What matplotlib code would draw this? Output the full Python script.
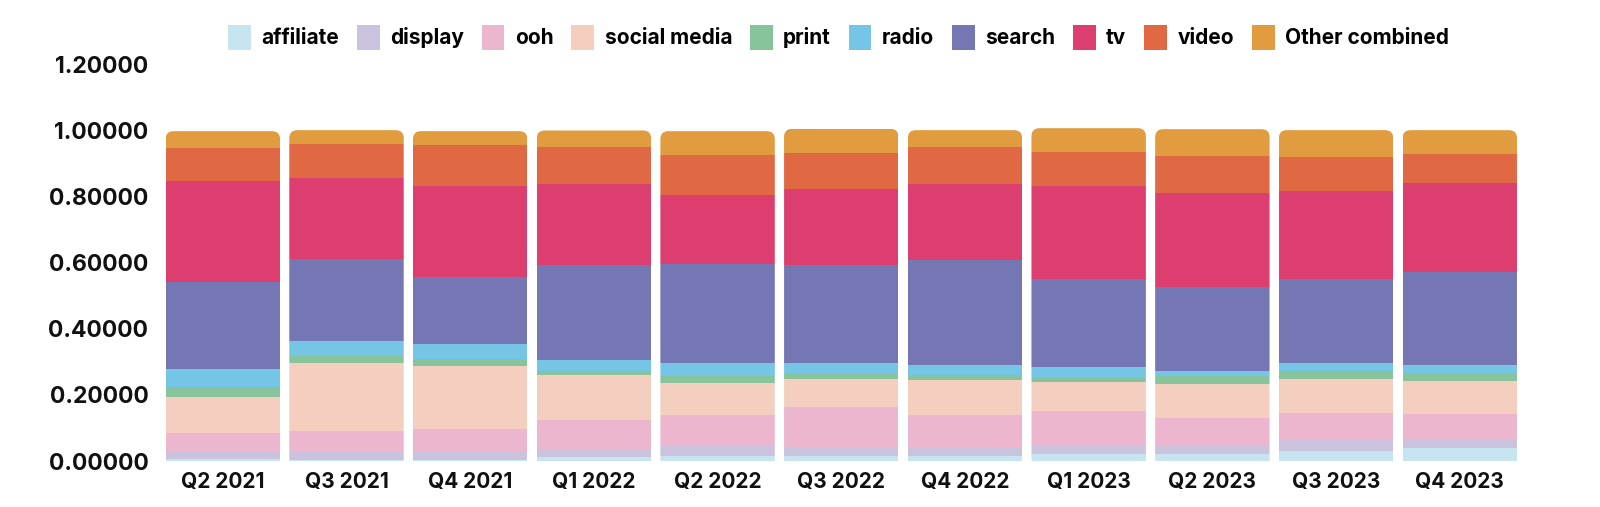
import matplotlib.pyplot as plt
from matplotlib.patches import FancyBboxPatch

### Data
quarters = ['Q2 2021', 'Q3 2021', 'Q4 2021', 'Q1 2022', 'Q2 2022', 'Q3 2022',
            'Q4 2022', 'Q1 2023', 'Q2 2023', 'Q3 2023', 'Q4 2023']
affiliate = [0.005, 0.004, 0.004, 0.012, 0.015, 0.015, 0.015, 0.021, 0.021, 0.031, 0.040]
display = [0.023, 0.024, 0.027, 0.023, 0.032, 0.025, 0.027, 0.026, 0.028, 0.032, 0.027]
ooh = [0.058, 0.063, 0.066, 0.089, 0.091, 0.124, 0.097, 0.104, 0.081, 0.082, 0.075]
social_media = [0.109, 0.207, 0.191, 0.135, 0.097, 0.083, 0.106, 0.089, 0.103, 0.102, 0.099]
print_ = [0.028, 0.020, 0.020, 0.014, 0.021, 0.019, 0.015, 0.011, 0.024, 0.025, 0.025]
radio = [0.055, 0.045, 0.046, 0.033, 0.040, 0.030, 0.030, 0.033, 0.016, 0.026, 0.025]
search = [0.264, 0.247, 0.203, 0.287, 0.299, 0.296, 0.317, 0.266, 0.253, 0.252, 0.281]
tv = [0.304, 0.247, 0.275, 0.246, 0.209, 0.231, 0.232, 0.282, 0.284, 0.266, 0.268]
video = [0.102, 0.102, 0.124, 0.110, 0.123, 0.109, 0.111, 0.102, 0.114, 0.104, 0.089]
other = [0.050, 0.042, 0.042, 0.051, 0.071, 0.073, 0.051, 0.073, 0.080, 0.081, 0.072]

series = [
    ('affiliate', affiliate, '#c6e5f0'),
    ('display', display, '#cbc2dd'),
    ('ooh', ooh, '#ecb7ce'),
    ('social media', social_media, '#f4cfc0'),
    ('print', print_, '#88c49b'),
    ('radio', radio, '#75c5e6'),
    ('search', search, '#7477b4'),
    ('tv', tv, '#dc3e6f'),
    ('video', video, '#e06943'),
    ('Other combined', other, '#e09c3e'),
]

plt.rcParams['font.family'] = ['Inter', 'DejaVu Sans']
plt.rcParams['font.weight'] = 'bold'

fig = plt.figure(figsize=(16, 5.07), dpi=100)
ax = fig.add_axes([0.1006, 0.0907, 0.8504, 0.7823])

x = list(range(len(quarters)))
width = 0.925
bottoms = [0.0] * len(quarters)
bar_groups = []
for name, vals, color in series:
    bars = ax.bar(x, vals, width, bottom=bottoms, color=color, label=name, linewidth=0)
    bar_groups.append(bars)
    bottoms = [b + v for b, v in zip(bottoms, vals)]

### Rounded top corners: clip every stack with a rounded box
aspect = 123.7 / 330.5
for i in x:
    clip = FancyBboxPatch((i - width / 2, -0.1), width, bottoms[i] + 0.1,
                          boxstyle='round,pad=0,rounding_size=0.065',
                          mutation_aspect=aspect, transform=ax.transData,
                          facecolor='none', edgecolor='none')
    ax.add_patch(clip)
    for bars in bar_groups:
        bars[i].set_clip_path(clip)

ax.set_xlim(-0.5, len(quarters) - 0.5)
ax.set_ylim(0, 1.2)
ax.set_yticks([0, 0.2, 0.4, 0.6, 0.8, 1.0, 1.2])
ax.set_yticklabels([f'{t:.5f}' for t in [0, 0.2, 0.4, 0.6, 0.8, 1.0, 1.2]])
ax.set_xticks(x)
ax.set_xticklabels(quarters)
ax.tick_params(length=0, colors='#111111')
ax.tick_params(axis='x', labelsize=15, pad=8)
ax.tick_params(axis='y', labelsize=16.5, pad=9)
for s in ax.spines.values():
    s.set_visible(False)

fig.legend(loc='center', bbox_to_anchor=(0.524, 0.926), ncol=10, frameon=False,
           fontsize=15, handlelength=1.1, handleheight=1.5, handletextpad=0.5,
           columnspacing=0.85)

fig.savefig('out.png', dpi=100)
